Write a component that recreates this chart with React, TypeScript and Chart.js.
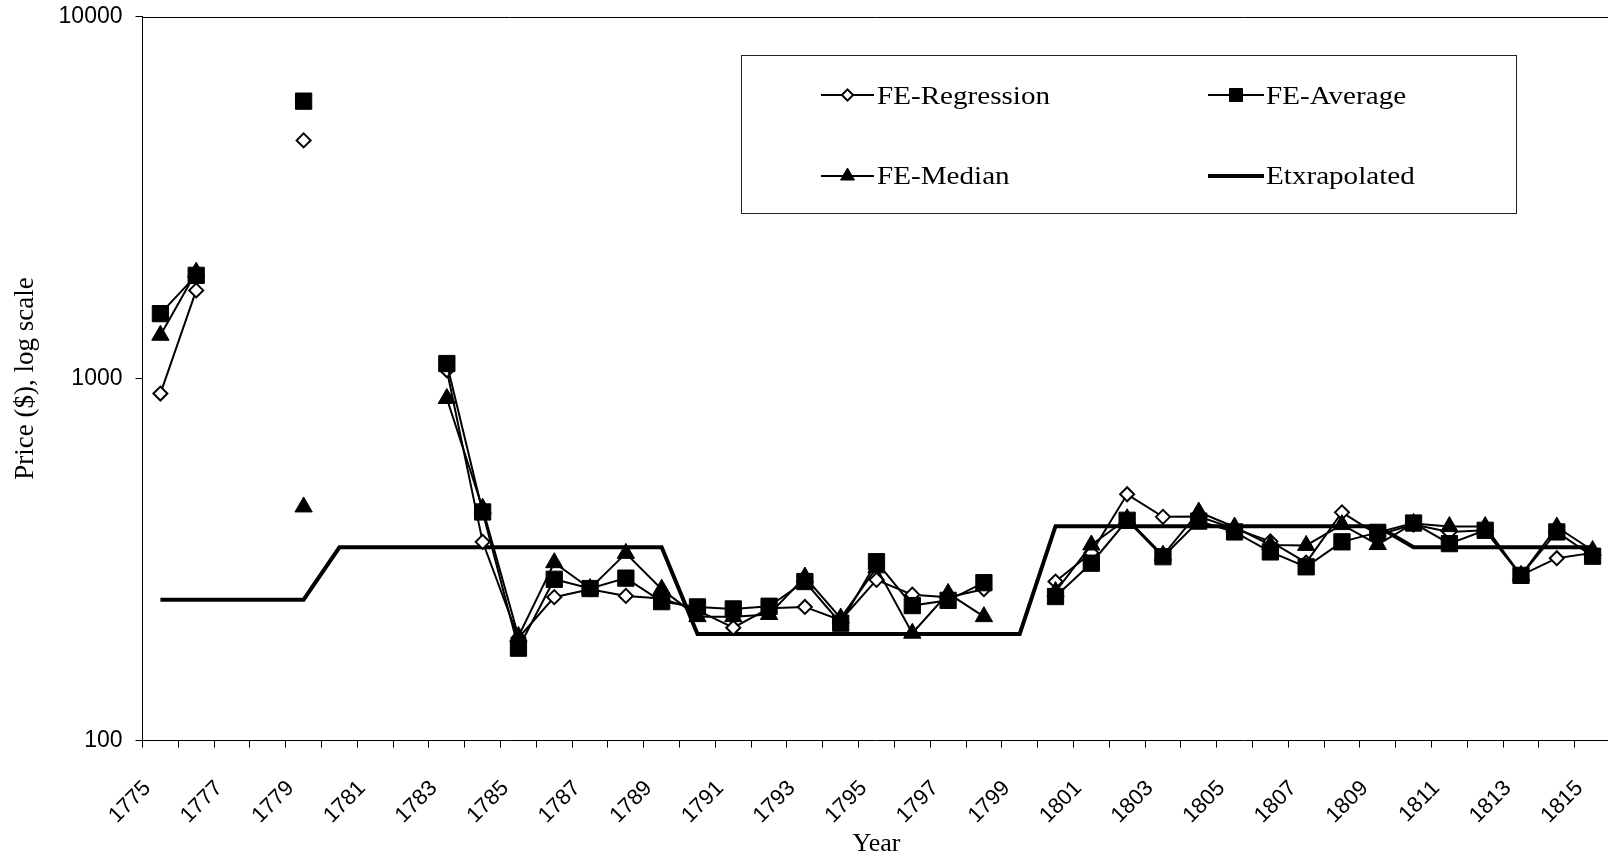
import React, { useEffect, useRef } from 'react';
import { Chart, registerables } from 'chart.js';
import { drawPoint } from 'chart.js/helpers';

Chart.register(...registerables);

const years = [
  '1775', '1776', '1777', '1778', '1779', '1780', '1781', '1782', '1783', '1784',
  '1785', '1786', '1787', '1788', '1789', '1790', '1791', '1792', '1793', '1794',
  '1795', '1796', '1797', '1798', '1799', '1800', '1801', '1802', '1803', '1804',
  '1805', '1806', '1807', '1808', '1809', '1810', '1811', '1812', '1813', '1814',
  '1815',
];

const shownYearLabels = [
  '1775', '1777', '1779', '1781', '1783', '1785', '1787', '1789', '1791', '1793',
  '1795', '1797', '1799', '1801', '1803', '1805', '1807', '1809', '1811', '1813',
  '1815',
];

const yTicks = [100, 1000, 10000];

const feRegression = [
  909, 1752, null, null, 4548, null, null, null, 1054, 354,
  192, 249, 262, 251, 247, 229, 205, 232, 234, 215,
  278, 253, 249, 262, null, 275, 330, 479, 415, 416,
  385, 355, 310, 427, 370, 395, 377, 381, 286, 319,
  330,
];

const feAverage = [
  1511, 1928, null, null, 5837, null, null, null, 1100, 428,
  180, 279, 263, 281, 242, 234, 231, 235, 275, 211,
  312, 236, 244, 273, null, 250, 309, 406, 322, 404,
  377, 332, 302, 354, 376, 399, 350, 381, 286, 377,
  323,
];

const feMedian = [
  1317, 1968, null, null, 442, null, null, null, 881, 438,
  194, 310, 263, 329, 262, 220, 220, 223, 283, 218,
  300, 198, 255, 220, null, 258, 347, 410, 325, 428,
  389, 347, 346, 395, 348, 398, 390, 390, 286, 389,
  335,
];

const extrapolated = [
  245, 245, 245, 245, 245, 342, 342, 342, 342, 342,
  342, 342, 342, 342, 342, 197, 197, 197, 197, 197,
  197, 197, 197, 197, 197, 391, 391, 391, 391, 391,
  391, 391, 391, 391, 391, 342, 342, 342, 342, 342,
  342,
];

const SANS = '"Liberation Sans", Arial, sans-serif';
const SERIF = '"Liberation Serif", "Times New Roman", serif';

const framePlugin = {
  id: 'frameTop',
  beforeDatasetsDraw(chart: any) {
    const { ctx, chartArea } = chart;
    ctx.save();
    ctx.strokeStyle = '#000';
    ctx.lineWidth = 1;
    ctx.beginPath();
    ctx.moveTo(chartArea.left, Math.round(chartArea.top) + 0.5);
    ctx.lineTo(chartArea.right, Math.round(chartArea.top) + 0.5);
    ctx.moveTo(Math.round(chartArea.right) - 0.5, chartArea.top);
    ctx.lineTo(Math.round(chartArea.right) - 0.5, chartArea.bottom);
    ctx.stroke();
    ctx.restore();
  },
};

const legendPlugin = {
  id: 'boxLegend',
  afterDraw(chart: any) {
    const { ctx } = chart;
    const ds = chart.data.datasets;
    ctx.save();
    ctx.fillStyle = '#fff';
    ctx.fillRect(741, 55, 775, 158);
    ctx.strokeStyle = '#222';
    ctx.lineWidth = 1;
    ctx.strokeRect(741.5, 55.5, 775, 158);

    const entries = [
      { d: ds[0], lx: 821, rx: 874, tx: 877, y: 95, by: 104 },
      { d: ds[1], lx: 1208, rx: 1264, tx: 1266, y: 95, by: 104 },
      { d: ds[2], lx: 821, rx: 874, tx: 877, y: 176, by: 184 },
      { d: ds[3], lx: 1208, rx: 1264, tx: 1266, y: 176, by: 184 },
    ];
    for (const e of entries) {
      ctx.strokeStyle = '#000';
      ctx.lineWidth = e.d.borderWidth;
      ctx.beginPath();
      ctx.moveTo(e.lx, e.y);
      ctx.lineTo(e.rx, e.y);
      ctx.stroke();
      if (e.d.pointRadius > 0) {
        ctx.fillStyle = e.d.pointBackgroundColor;
        ctx.strokeStyle = e.d.pointBorderColor;
        ctx.lineWidth = e.d.pointBorderWidth;
        drawPoint(ctx, {
          pointStyle: e.d.pointStyle,
          rotation: 0,
          radius: e.d.pointRadius * 0.8,
          borderWidth: e.d.pointBorderWidth,
        } as any, (e.lx + e.rx) / 2, e.y);
      }
      ctx.save();
      ctx.translate(e.tx, e.by);
      ctx.scale(1.12, 1);
      ctx.fillStyle = '#000';
      ctx.font = `26px ${SERIF}`;
      ctx.textAlign = 'left';
      ctx.textBaseline = 'alphabetic';
      ctx.fillText(e.d.label, 0, 0);
      ctx.restore();
    }
    ctx.restore();
  },
};

export default function App() {
  const canvasRef = useRef<HTMLCanvasElement | null>(null);

  useEffect(() => {
    const canvas = canvasRef.current;
    if (!canvas) return;
    const chart = new Chart(canvas, {
      type: 'line',
      data: {
        labels: years,
        datasets: [
          {
            label: 'FE-Regression',
            data: feRegression,
            borderColor: '#000',
            borderWidth: 2,
            pointStyle: 'rectRot',
            pointRadius: 7,
            pointBackgroundColor: '#fff',
            pointBorderColor: '#000',
            pointBorderWidth: 2,
            spanGaps: false,
            tension: 0,
            order: 2,
          },
          {
            label: 'FE-Average',
            data: feAverage,
            borderColor: '#000',
            borderWidth: 2,
            pointStyle: 'rect',
            pointRadius: 11.5,
            pointBackgroundColor: '#000',
            pointBorderColor: '#000',
            pointBorderWidth: 1,
            spanGaps: false,
            tension: 0,
            order: 0,
          },
          {
            label: 'FE-Median',
            data: feMedian,
            borderColor: '#000',
            borderWidth: 2,
            pointStyle: 'triangle',
            pointRadius: 10,
            pointBackgroundColor: '#000',
            pointBorderColor: '#000',
            pointBorderWidth: 1,
            spanGaps: false,
            tension: 0,
            order: 1,
          },
          {
            label: 'Etxrapolated',
            data: extrapolated,
            borderColor: '#000',
            borderWidth: 4,
            pointRadius: 0,
            pointBackgroundColor: '#000',
            pointBorderColor: '#000',
            pointBorderWidth: 0,
            tension: 0,
            order: 3,
          },
        ] as any,
      },
      options: {
        responsive: false,
        animation: false,
        devicePixelRatio: 1,
        layout: { padding: { top: 16.5, right: 12, left: 0, bottom: 0 } },
        plugins: {
          legend: { display: false },
          tooltip: { enabled: false },
        },
        scales: {
          x: {
            type: 'category',
            offset: true,
            grid: {
              offset: true,
              drawOnChartArea: false,
              drawTicks: true,
              tickLength: 7,
              color: '#000',
              lineWidth: 1,
            },
            border: { display: true, color: '#000', width: 1 },
            ticks: {
              autoSkip: false,
              maxRotation: 45,
              minRotation: 45,
              padding: 28,
              labelOffset: -13,
              color: '#000',
              font: { family: SANS, size: 22 },
              callback: function (this: any, v: any) {
                const l = this.getLabelForValue(v);
                return shownYearLabels.includes(l) ? l : '';
              },
            },
            title: {
              display: true,
              text: 'Year',
              color: '#000',
              font: { family: SERIF, size: 26 },
              padding: { top: 0, bottom: 1 },
            },
            afterFit: (s: any) => {
              s.height = 120.4;
              s.paddingLeft = 0;
              s.paddingRight = 0;
              s.paddingTop = 0;
              s.paddingBottom = 0;
            },
          },
          y: {
            type: 'logarithmic',
            min: 100,
            max: 10000,
            afterBuildTicks: (s: any) => {
              s.ticks = yTicks.map((v) => ({ value: v }));
            },
            grid: {
              drawOnChartArea: false,
              drawTicks: true,
              tickLength: 7,
              color: '#000',
              lineWidth: 1,
            },
            border: { display: true, color: '#000', width: 1 },
            ticks: {
              padding: 13,
              color: '#000',
              font: { family: SANS, size: 23 },
              callback: (v: any) => String(v),
            },
            title: {
              display: true,
              text: 'Price ($), log scale',
              color: '#000',
              font: { family: SERIF, size: 27 },
              padding: { top: 9.5, bottom: 0 },
            },
            afterFit: (s: any) => {
              s.width = 142.5;
              s.paddingLeft = 0;
              s.paddingRight = 0;
              s.paddingTop = 0;
              s.paddingBottom = 0;
            },
          },
        },
      } as any,
      plugins: [framePlugin, legendPlugin],
    });
    return () => chart.destroy();
  }, []);

  return (
    <div
      style={{
        position: 'fixed',
        left: 0,
        top: 0,
        width: 1608,
        height: 861,
        overflow: 'hidden',
        background: '#fff',
      }}
    >
      <canvas ref={canvasRef} width={1623} height={861} style={{ display: 'block' }} />
    </div>
  );
}
